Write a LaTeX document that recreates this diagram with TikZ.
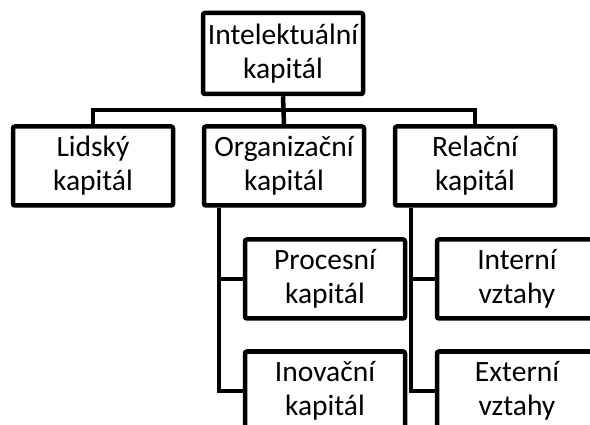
\documentclass[tikz,border=0pt]{standalone}
\usepackage{fontspec}
\setmainfont{Carlito}
\begin{document}
\begin{tikzpicture}[x=1pt,y=-1pt,
  box/.style={draw=black, fill=white, line width=4.5pt, rounded corners=2pt,
    minimum width=160pt, minimum height=79pt, align=center, inner sep=0pt,
    font=\fontsize{29.5}{34}\selectfont},
  conn/.style={draw=black, line width=4.5pt}]
\path[use as bounding box, clip] (0,0) rectangle (590,425);
\fill[white] (0,0) rectangle (590,425);
\node[box, minimum height=81pt] (root) at (283,53.5) {Intelektuální\\kapitál};
\node[box] (lid) at (93,166) {Lidský\\kapitál};
\node[box] (org) at (284,166) {Organizační\\kapitál};
\node[box] (rel) at (475,166) {Relační\\kapitál};
\node[box] (proc) at (325,279) {Procesní\\kapitál};
\node[box] (inov) at (325,391) {Inovační\\kapitál};
\node[box] (intv) at (517,279) {Interní\\vztahy};
\node[box] (extv) at (517,391) {Externí\\vztahy};
\coordinate (hb) at (283,110);
\draw[conn] (root.south) -- (org.north);
\draw[conn] (lid.north) -- (lid.north |- hb) -- (rel.north |- hb) -- (rel.north);
\coordinate (ot) at ([xshift=17pt]org.south west);
\coordinate (rt) at ([xshift=18pt]rel.south west);
\draw[conn] (ot) |- (proc.west);
\draw[conn] (ot) |- (inov.west);
\draw[conn] (rt) |- (intv.west);
\draw[conn] (rt) |- (extv.west);
\end{tikzpicture}
\end{document}
